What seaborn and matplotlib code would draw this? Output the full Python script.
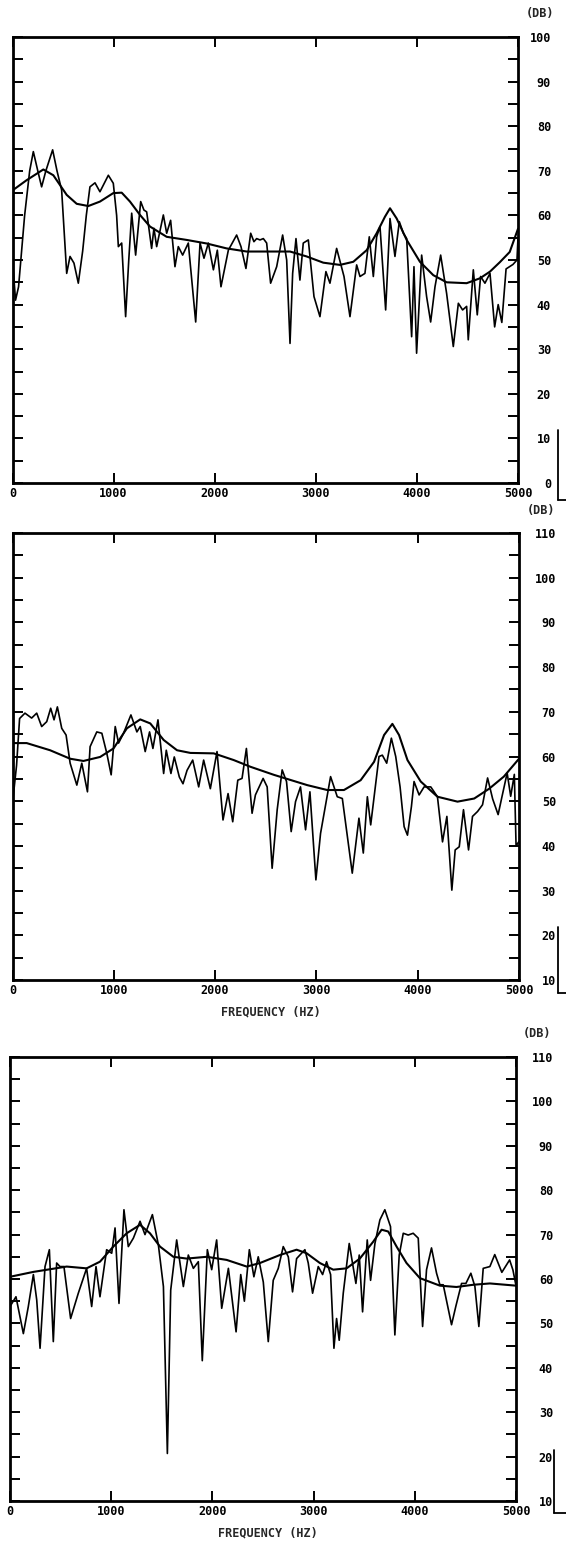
#!/usr/bin/env python3
"""
Three stacked spectra (dB vs frequency) with a smoothed envelope each,
redrawn in the old plotter style.
"""

import matplotlib
matplotlib.use('Agg')
import matplotlib.pyplot as plt
import seaborn as sns
from matplotlib.ticker import MultipleLocator
from matplotlib.lines import Line2D

# ---------- panel 1 ----------
p1_freq = [0, 30, 60, 120, 170, 206, 250, 288, 330, 397, 440, 486, 536, 569, 608, 651, 694,
           730, 766, 816, 865, 948, 997, 1030, 1047, 1080, 1119, 1150, 1179, 1218, 1268,
           1300, 1327, 1376, 1399, 1426, 1492, 1525, 1564, 1607, 1640, 1683, 1739, 1812,
           1855, 1894, 1937, 1987, 2026, 2062, 2135, 2217, 2260, 2309, 2356, 2388, 2415,
           2448, 2481, 2514, 2553, 2613, 2672, 2712, 2745, 2771, 2804, 2843, 2876, 2926,
           2982, 3041, 3100, 3140, 3206, 3279, 3338, 3404, 3437, 3486, 3529, 3569, 3602,
           3635, 3691, 3734, 3783, 3826, 3866, 3899, 3948, 3971, 3997, 4047, 4096, 4136,
           4179, 4235, 4294, 4360, 4410, 4452, 4492, 4508, 4558, 4597, 4630, 4673, 4723,
           4769, 4804, 4840, 4882, 4950, 4990, 5000]
p1_db = [50, 41, 44, 60, 70, 74.3, 70, 66.4, 70, 74.7, 70, 65.7, 47, 50.8, 49.3, 44.8, 52,
         60, 66.4, 67.3, 65.3, 69, 67.2, 60, 53, 53.8, 37.3, 50, 60.5, 51.1, 63.1,
         61.2, 60.8, 52.6, 57.1, 53, 60.1, 56, 58.9, 48.5, 53, 51.1, 53.8, 36.1,
         53.8, 50.4, 53.8, 47.8, 52.2, 44, 52.2, 55.6, 53, 48.1, 56, 54.1, 54.8,
         54.5, 54.8, 53.8, 44.8, 48.5, 55.6, 50, 31.3, 47, 54.8, 45.5, 53.8, 54.5,
         41.8, 37.3, 47.4, 44.8, 52.6, 46.3, 37.3, 48.9, 46.3, 47, 55.2, 46.3, 55.2,
         57.5, 38.8, 59.3, 50.8, 58.6, 56, 54.8, 32.8, 48.5, 29.1, 51.1, 41.8, 36.1,
         44, 51.1, 42.5, 30.6, 40.3, 38.8, 39.6, 32.1, 47.8, 37.7, 46.3, 44.8, 47,
         35, 40, 36, 48, 49, 50, 55]
p1_env_freq = [0, 140, 305, 404, 536, 635, 750, 865, 997, 1080, 1162, 1261, 1360, 1525,
               1723, 1921, 2118, 2316, 2448, 2745, 2909, 3074, 3239, 3371, 3503, 3602,
               3684, 3734, 3800, 3899, 4030, 4162, 4294, 4492, 4624, 4723, 4820, 4918, 5000]
p1_env_db = [65.6, 67.9, 70.3, 69, 64.6, 62.6, 62.1, 63.1, 65, 65.1, 63.1, 60.1, 57.5, 55.2,
             54.5, 53.7, 52.6, 51.9, 51.9, 51.9, 50.8, 49.4, 48.9, 49.6, 52.2, 56,
             59.7, 61.6, 59.3, 54.5, 49.6, 46.6, 45, 44.8, 45.9, 47.4, 49.5, 51.8, 57]

# ---------- panel 2 ----------
p2_freq = [0, 40, 70, 123, 189, 239, 288, 338, 377, 410, 443, 486, 529, 569, 635, 684, 740,
           766, 832, 882, 931, 974, 1014, 1047, 1096, 1169, 1228, 1261, 1310, 1353, 1386,
           1436, 1492, 1518, 1564, 1597, 1647, 1683, 1723, 1779, 1838, 1887, 1953, 2019,
           2078, 2128, 2174, 2224, 2266, 2309, 2365, 2398, 2474, 2514, 2563, 2613, 2662,
           2705, 2751, 2794, 2843, 2893, 2936, 2995, 3041, 3140, 3206, 3256, 3354, 3420,
           3463, 3503, 3536, 3618, 3651, 3694, 3740, 3783, 3826, 3866, 3899, 3938, 3964,
           4014, 4063, 4129, 4195, 4245, 4288, 4337, 4370, 4410, 4452, 4502, 4541, 4591,
           4640, 4690, 4740, 4794, 4829, 4883, 4918, 4954, 4971, 5000]
p2_db = [49.5, 58, 68.5, 69.7, 68.6, 69.7, 66.7, 67.8, 70.8, 68.2, 71.1, 66.3, 64.8, 58.5,
         53.6, 58.5, 52.1, 62.2, 65.5, 65.2, 60.7, 55.9, 66.7, 63, 65.2, 69.3, 65.5, 66.7,
         61.1, 65.5, 61.8, 68.2, 56.2, 61.4, 56.2, 59.9, 55.4, 53.9, 56.9, 59.2, 53.2,
         59.2, 52.8, 61.1, 45.8, 51.7, 45.4, 54.7, 55.1, 61.8, 47.3, 51.4, 55.1, 53.2,
         35, 48.1, 57, 54.4, 43.2, 49.9, 53.2, 43.6, 52.1, 32.4, 42.8, 55.5, 51, 50.6,
         33.9, 46.2, 38.4, 51, 44.7, 60, 60.3, 58.5, 64.1, 60, 53.2, 44.3, 42.4, 48.8,
         54.4, 51.4, 53.2, 53.2, 51, 40.9, 46.6, 30.1, 39.1, 39.8, 48.1, 39.1, 46.6,
         47.7, 49.2, 55.2, 50.5, 47, 50.7, 56.3, 51.1, 56, 40, 41]
p2_env_freq = [0, 140, 371, 569, 700, 865, 997, 1129, 1261, 1360, 1492, 1624, 1756, 1987,
               2184, 2349, 2580, 2909, 3107, 3272, 3437, 3569, 3668, 3750, 3816, 3899,
               4030, 4195, 4393, 4558, 4706, 4850, 5000]
p2_env_db = [63, 63, 61.4, 59.5, 59, 59.9, 61.8, 66.3, 68.3, 67.4, 63.7, 61.4, 60.8, 60.7,
             59.2, 57.7, 55.9, 53.6, 52.5, 52.5, 54.7, 58.8, 64.8, 67.3, 64.8, 59.2,
             54.4, 51, 49.9, 50.6, 52.8, 55.5, 59.5]

# ---------- panel 3 ----------
p3_freq = [0, 59, 132, 181, 231, 264, 297, 346, 389, 428, 461, 494, 533, 599, 675, 757, 807,
           850, 889, 955, 1005, 1038, 1077, 1126, 1169, 1219, 1285, 1334, 1407, 1466, 1516,
           1555, 1588, 1647, 1713, 1762, 1812, 1861, 1900, 1950, 1993, 2042, 2092, 2158,
           2234, 2280, 2316, 2365, 2410, 2453, 2503, 2552, 2601, 2651, 2700, 2750, 2792,
           2832, 2914, 2947, 2990, 3046, 3089, 3128, 3168, 3201, 3227, 3253, 3293, 3352,
           3418, 3451, 3484, 3530, 3563, 3606, 3655, 3704, 3760, 3803, 3846, 3886, 3935,
           3984, 4034, 4077, 4116, 4165, 4215, 4248, 4281, 4363, 4406, 4462, 4505, 4554,
           4594, 4633, 4676, 4742, 4790, 4860, 4937, 4970, 5000]
p3_db = [53.8, 56, 47.7, 53.8, 61, 55.3, 44.4, 62.8, 66.6, 45.9, 63.6, 62.8, 62.8, 51.1,
         56.8, 62.4, 53.8, 62.8, 56, 66.6, 65.8, 71.5, 54.5, 75.6, 67.3, 69.2, 73, 70,
         74.5, 67.7, 58.3, 20.7, 57.5, 68.8, 58.3, 65.4, 62.4, 63.9, 41.6, 66.6, 62.1,
         68.8, 53.4, 62.4, 48.1, 61, 55, 66.6, 60.5, 65, 59.3, 45.9, 59.7, 62.4, 67.3,
         65, 57.1, 64.6, 66.6, 63.6, 56.8, 62.8, 61, 63.9, 61, 44.4, 51.1, 46.2, 56.8,
         68, 59, 65.4, 52.6, 68.8, 59.7, 68, 73.3, 75.6, 71.8, 47.4, 65.4, 70.3, 69.9,
         70.3, 69.2, 49.3, 62.1, 67, 61.3, 58.7, 58.7, 49.7, 53.9, 59, 59, 61.3, 58.3,
         49.3, 62.4, 62.8, 65.5, 61.5, 64.3, 62, 58.5]
p3_env_freq = [0, 231, 560, 757, 889, 1021, 1153, 1285, 1383, 1482, 1614, 1746, 1944, 2141,
               2339, 2470, 2667, 2832, 2931, 3062, 3194, 3326, 3457, 3589, 3672, 3737,
               3820, 3918, 4050, 4248, 4412, 4577, 4742, 5000]
p3_env_db = [60.5, 61.6, 62.8, 62.4, 63.9, 67.3, 70.3, 72.2, 70.3, 67.3, 65, 64.6, 65, 64.3,
             62.8, 63.6, 65.4, 66.6, 65.8, 63.6, 62.1, 62.4, 64.6, 68.4, 71.1, 70.7,
             67.3, 63.6, 60.2, 58.5, 58.2, 58.7, 59, 58.5]

W, H = 566, 1544
TICK_FONT = dict(family='DejaVu Sans Mono', weight='bold', size=8.5)


def draw_panel(fig, box, label_edge, db_x, freq, db, env_freq, env_db, ylo, yhi,
               with_xlabel):
    """box = (left, top, right, bottom) in pixels"""
    l, t, r, b = box
    ax = fig.add_axes([l / W, 1 - b / H, (r - l) / W, (b - t) / H])

    # espectro e envelope suavizado
    sns.lineplot(x=freq, y=db, ax=ax, color='black', linewidth=1.2,
                 estimator=None, sort=False)
    sns.lineplot(x=env_freq, y=env_db, ax=ax, color='black', linewidth=1.5,
                 estimator=None, sort=False)

    ax.set_xlim(0, 5000)
    ax.set_ylim(ylo, yhi)
    ax.xaxis.set_major_locator(MultipleLocator(1000))
    ax.yaxis.set_major_locator(MultipleLocator(10))
    ax.yaxis.set_minor_locator(MultipleLocator(5))
    ax.tick_params(which='both', direction='in', top=True, bottom=True,
                   left=True, right=True, labelleft=False, labelright=True,
                   length=7, width=1.4, colors='black')
    # labels da direita alinhados pela direita, como no plotter
    ax.tick_params(axis='y', which='both', pad=(label_edge - r) * 0.72)
    ax.tick_params(axis='x', pad=3)
    for tick in ax.yaxis.get_major_ticks():
        tick.label2.set_horizontalalignment('right')
    for lab in ax.get_xticklabels() + ax.get_yticklabels():
        lab.set_fontproperties(TICK_FONT)
    for s in ax.spines.values():
        s.set_linewidth(2)
        s.set_color('black')
    ax.set_xlabel('')
    ax.set_ylabel('')

    ax.text((db_x - l) / (r - l), 1 + 23 / (b - t), '(DB)', transform=ax.transAxes,
            ha='center', va='center', **TICK_FONT)
    if with_xlabel:
        ax.text(0.51, -32 / (b - t), 'FREQUENCY (HZ)', transform=ax.transAxes,
                ha='center', va='center', **TICK_FONT)
    return ax


def scan_mark(fig, x, y0, y1):
    # restos de moldura do scan, ao lado direito
    fig.add_artist(Line2D([x / W, x / W], [1 - y0 / H, 1 - y1 / H],
                          color='black', linewidth=1.3))
    fig.add_artist(Line2D([x / W, 566 / W], [1 - y1 / H, 1 - y1 / H],
                          color='black', linewidth=1.3))


if __name__ == "__main__":
    sns.set_theme(style="white")
    plt.rcParams['font.family'] = ['DejaVu Sans Mono']

    fig = plt.figure(figsize=(W / 100, H / 100), dpi=100)
    fig.patch.set_facecolor('white')

    draw_panel(fig, (12.5, 37, 518, 483), 551, 540, p1_freq, p1_db,
               p1_env_freq, p1_env_db, 0, 100, False)
    draw_panel(fig, (12.5, 533, 519, 980), 556, 541, p2_freq, p2_db,
               p2_env_freq, p2_env_db, 10, 110, True)
    draw_panel(fig, (10, 1057, 516, 1501), 553, 537, p3_freq, p3_db,
               p3_env_freq, p3_env_db, 10, 110, True)

    scan_mark(fig, 558, 430, 500)
    scan_mark(fig, 558, 927, 993)
    scan_mark(fig, 554, 1450, 1513)

    fig.savefig('out.png', dpi=100, facecolor='white')
    plt.close(fig)
